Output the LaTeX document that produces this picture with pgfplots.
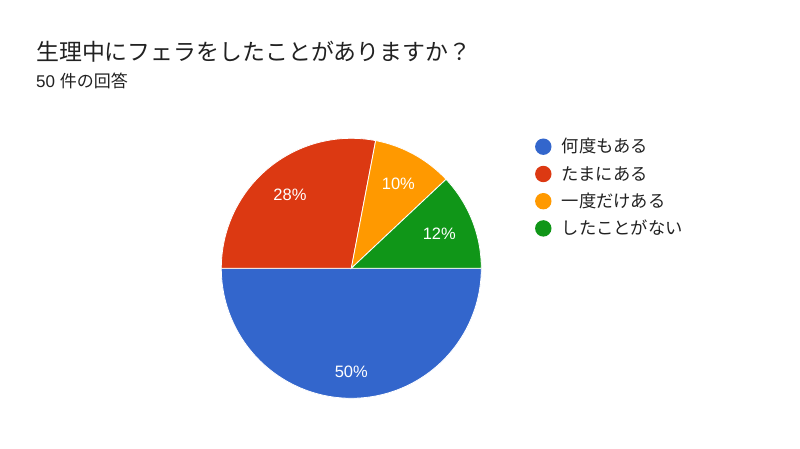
\documentclass[border=0pt]{standalone}
\usepackage{pgfplots}
\pgfplotsset{compat=1.18}
\usepackage{fontspec}
\setmainfont{Liberation Sans}
\newfontfamily\jp{Noto Sans CJK JP}
\definecolor{gblue}{HTML}{3366CC}
\definecolor{gred}{HTML}{DC3912}
\definecolor{gorange}{HTML}{FF9900}
\definecolor{ggreen}{HTML}{109618}
\definecolor{gtext}{HTML}{212121}
\begin{document}
\begin{tikzpicture}[x=1pt,y=1pt]
\fill[white] (0,0) rectangle (800,449);
% title
\node[anchor=base west, inner sep=0pt, text=gtext, font=\fontsize{22.9}{27}\selectfont\jp] at (36,388.5) {生理中にフェラをしたことがありますか？};
\node[anchor=base west, inner sep=0pt, text=gtext, font=\fontsize{17}{20}\selectfont] at (36,361) {50 {\jp 件の回答}};
\begin{axis}[at={(351.3pt,180.7pt)}, anchor=center, hide axis, scale only axis,
  width=260pt, height=260pt, xmin=-1, xmax=1, ymin=-1, ymax=1, clip=false]
% slices: 50% (blue), 28% (red), 10% (orange), 12% (green), clockwise from 3 o'clock
\addplot[fill=gblue, draw=white, line width=0.8pt, domain=0:-180, samples=120, variable=\t] ({cos(\t)},{sin(\t)}) -- (axis cs:0,0) -- cycle;
\addplot[fill=gred, draw=white, line width=0.8pt, domain=180:79.2, samples=80, variable=\t] ({cos(\t)},{sin(\t)}) -- (axis cs:0,0) -- cycle;
\addplot[fill=gorange, draw=white, line width=0.8pt, domain=79.2:43.2, samples=40, variable=\t] ({cos(\t)},{sin(\t)}) -- (axis cs:0,0) -- cycle;
\addplot[fill=ggreen, draw=white, line width=0.8pt, domain=43.2:0, samples=40, variable=\t] ({cos(\t)},{sin(\t)}) -- (axis cs:0,0) -- cycle;
\node[text=white, font=\fontsize{16.5}{20}\selectfont] at (axis cs:0,-0.80) {50\%};
\node[text=white, font=\fontsize{16.5}{20}\selectfont] at (axis cs:-0.472,0.564) {28\%};
\node[text=white, font=\fontsize{16.5}{20}\selectfont] at (axis cs:0.362,0.646) {10\%};
\node[text=white, font=\fontsize{16.5}{20}\selectfont] at (axis cs:0.677,0.269) {12\%};
\end{axis}
% legend
\foreach \c/\y/\t in {gblue/146.7/何度もある, gred/174.0/たまにある, gorange/201.2/一度だけある, ggreen/228.4/したことがない}{
  \fill[\c] (543.3,449-\y) circle (8.2);
  \node[anchor=base west, inner sep=0pt, text=gtext, font=\fontsize{17.3}{20}\selectfont\jp] at (561.5,449-\y-6.2) {\t};
}
\end{tikzpicture}
\end{document}
